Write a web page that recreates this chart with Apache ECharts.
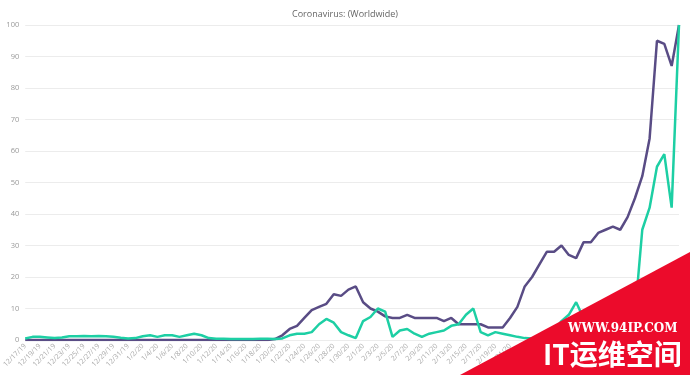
<!DOCTYPE html>
<html>
<head>
<meta charset="utf-8">
<script src="https://cdn.jsdelivr.net/npm/echarts@6/dist/echarts.min.js"></script>
<style>html,body{margin:0;padding:0;background:#fff;}#c{width:690px;height:375px;}</style>
</head>
<body>
<div id="c"></div>
<script>
var titleText = 'Coronavirus: (Worldwide)';
var dates = [
 '12/17/19','12/18/19','12/19/19','12/20/19','12/21/19','12/22/19','12/23/19','12/24/19','12/25/19','12/26/19',
 '12/27/19','12/28/19','12/29/19','12/30/19','12/31/19',
 '1/1/20','1/2/20','1/3/20','1/4/20','1/5/20','1/6/20','1/7/20','1/8/20','1/9/20','1/10/20',
 '1/11/20','1/12/20','1/13/20','1/14/20','1/15/20','1/16/20','1/17/20','1/18/20','1/19/20','1/20/20',
 '1/21/20','1/22/20','1/23/20','1/24/20','1/25/20','1/26/20','1/27/20','1/28/20','1/29/20','1/30/20','1/31/20',
 '2/1/20','2/2/20','2/3/20','2/4/20','2/5/20','2/6/20','2/7/20','2/8/20','2/9/20','2/10/20',
 '2/11/20','2/12/20','2/13/20','2/14/20','2/15/20','2/16/20','2/17/20','2/18/20','2/19/20','2/20/20',
 '2/21/20','2/22/20','2/23/20','2/24/20','2/25/20','2/26/20','2/27/20','2/28/20','2/29/20',
 '3/1/20','3/2/20','3/3/20','3/4/20','3/5/20','3/6/20','3/7/20','3/8/20','3/9/20','3/10/20',
 '3/11/20','3/12/20','3/13/20','3/14/20','3/15/20'
];
var purpleSeries = [
 0,0,0,0,0,0,0,0,0,0,
 0,0,0,0,0,0,0,0,0,0,
 0,0,0,0,0,0,0,0,0,0,
 0,0,0,0,0.3,1.5,3.5,4.5,7,9.5,
 10.5,11.5,14.5,14,16,17,12,10,9,7.5,
 7,7,8,7,7,7,7,6,7,5,
 5,5,5,4,4,4,7,10.5,17,20,
 24,28,28,30,27,26,31,31,34,35,
 36,35,39,45,52,64,95,94,87,100
];
var tealSeries = [
 0.5,1,1,0.8,0.6,0.8,1.2,1.2,1.3,1.2,
 1.3,1.2,1,0.7,0.5,0.6,1.2,1.5,1,1.5,
 1.5,1,1.5,2,1.5,0.6,0.4,0.4,0.3,0.3,
 0.3,0.3,0.4,0.4,0.3,0.5,1.5,2,2,2.5,
 5,6.7,5.5,2.5,1.5,0.6,6,7.3,10,9,
 1,3,3.5,2,1,2,2.5,3,4.5,5,
 8,10,2.5,1.5,2.5,2,1.5,1,0.6,0.5,
 1,2,3,6,8,12,7,5,4,3,
 3,4,5,8,35,42,55,59,42,100
];
var yMax = 100, yStep = 10;
var wmUrl = 'WWW.94IP.COM';
var wmName = 'IT运维空间';

var chart = echarts.init(document.getElementById('c'), null, {renderer: 'canvas'});
chart.setOption({
  animation: false,
  backgroundColor: '#fff',
  title: {
    text: titleText, left: 'center', top: 5,
    textStyle: {fontFamily: 'Open Sans', fontSize: 9, fontWeight: 'normal', color: '#666'}
  },
  grid: {left: 22, right: 11, top: 25, bottom: 35},
  xAxis: {
    type: 'category', data: dates, boundaryGap: false,
    axisLine: {show: false}, axisTick: {show: false},
    axisLabel: {interval: 1, rotate: 45, fontSize: 7, color: '#aaa', fontFamily: 'Open Sans', margin: 5}
  },
  yAxis: {
    type: 'value', min: 0, max: yMax, interval: yStep,
    axisLine: {show: false}, axisTick: {show: false},
    axisLabel: {fontSize: 7.5, color: '#999', fontFamily: 'Open Sans', margin: 6},
    splitLine: {lineStyle: {color: '#ececec', width: 1}}
  },
  series: [
    {type: 'line', data: purpleSeries, showSymbol: false, lineStyle: {color: '#594c85', width: 2.5}, itemStyle: {color: '#594c85'}},
    {type: 'line', data: tealSeries, showSymbol: false, lineStyle: {color: '#1dcfa4', width: 2.5}, itemStyle: {color: '#1dcfa4'}}
  ],
  graphic: [
    {type: 'polygon', shape: {points: [[460, 375], [690, 252], [690, 375]]}, style: {fill: '#ec0b2b'}, z: 100},
    {type: 'text', left: 568, top: 323, style: {text: wmUrl, fill: '#fff', font: 'bold 12px "DejaVu Serif"'}, z: 101},
    {type: 'text', left: 543, top: 340, style: {text: wmName, fill: '#fff', font: 'bold 28px "Noto Sans CJK SC"'}, z: 101}
  ]
});
</script>
</body>
</html>
